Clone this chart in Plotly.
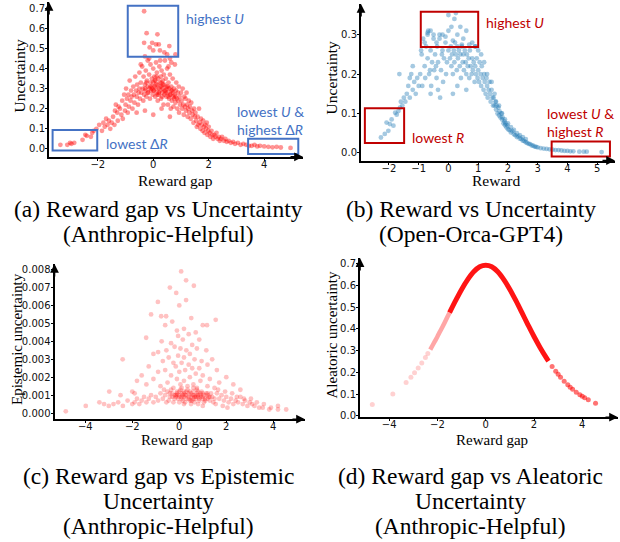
import plotly.graph_objects as go

# ---------------- data ----------------
# (a) Anthropic-Helpful: reward gap vs uncertainty
gap_a = [
    -3.35, -3.1, -3.0, -2.95, -2.85, -2.55, -2.45, -2.4, -2.25, -2.2, -2.15,
    -2.05, -1.95, -1.85, -1.8, -1.75, -1.7, -1.65, -1.6, -1.55, -1.5,
    -1.45, -1.4, -1.38, -1.35, -1.3, -1.28, -1.25, -1.2, -1.15, -1.12, -1.1, -1.05, -1.02, -1.0,
    -0.98, -0.95, -0.92, -0.9, -0.88, -0.85, -0.82, -0.8, -0.78, -0.75, -0.72, -0.7, -0.68, -0.65, -0.62, -0.6, -0.58, -0.55, -0.53, -0.5, -0.5,
    -0.48, -0.45, -0.43, -0.4, -0.38, -0.36, -0.35, -0.33, -0.3, -0.28, -0.27, -0.25, -0.23, -0.2, -0.2, -0.18, -0.15, -0.14, -0.12, -0.1, -0.1, -0.08, -0.05, -0.04, -0.02, 0.0, 0.0,
    0.02, 0.04, 0.05, 0.07, 0.08, 0.1, 0.1, 0.12, 0.13, 0.15, 0.16, 0.18, 0.2, 0.2, 0.22, 0.24, 0.25, 0.27, 0.28, 0.3, 0.3, 0.32, 0.34, 0.35, 0.37, 0.38, 0.4, 0.4, 0.42, 0.44, 0.45, 0.47, 0.48, 0.5,
    0.52, 0.53, 0.55, 0.57, 0.58, 0.6, 0.62, 0.63, 0.65, 0.67, 0.68, 0.7, 0.72, 0.73, 0.75, 0.77, 0.78, 0.8, 0.82, 0.83, 0.85, 0.87, 0.88, 0.9, 0.92, 0.93, 0.95, 0.97, 1.0,
    1.02, 1.04, 1.06, 1.08, 1.1, 1.12, 1.14, 1.16, 1.18, 1.2, 1.22, 1.24, 1.26, 1.28, 1.3, 1.32, 1.35, 1.37, 1.4, 1.42, 1.45, 1.47, 1.5,
    1.52, 1.55, 1.57, 1.6, 1.62, 1.65, 1.67, 1.7, 1.72, 1.75, 1.78, 1.8, 1.83, 1.85, 1.88, 1.9, 1.93, 1.95, 1.98, 2.0,
    2.03, 2.06, 2.1, 2.13, 2.16, 2.2, 2.24, 2.28, 2.32, 2.36, 2.4, 2.44, 2.48,
    2.55, 2.6, 2.65, 2.72, 2.8, 2.88, 2.95, 3.05, 3.15, 3.25, 3.35, 3.45,
    3.55, 3.65, 3.75, 3.85, 4.0, 4.15, 4.3, 4.45, 4.6, 4.95,
    -0.33, 0.15, -0.24, -0.04, -0.33, 0.1, 0.58, -0.13, 0.24, 0.8, 0.4, -0.3, 0.6, 0.2, 0.0, 0.5,
    -0.6, -0.3, 0.0, 0.3, 0.6, -0.45, 0.65, 0.55, -0.15, 0.25,
    -0.3, -0.2, -0.1, 0.0, 0.1, 0.2, 0.3, 0.4, 0.5, 0.6, 0.7, 0.8, -0.25, -0.05, 0.15, 0.35, 0.55, 0.75, 0.05, 0.25, 0.45, 0.65, 0.12, 0.32, 0.52,
]
unc_a = [
    0.02, 0.02, 0.03, 0.025, 0.03, 0.045, 0.07, 0.065, 0.06, 0.08, 0.09,
    0.10, 0.12, 0.09, 0.13, 0.11, 0.15, 0.12, 0.14, 0.10, 0.13,
    0.16, 0.12, 0.19, 0.22, 0.18, 0.14, 0.21, 0.20, 0.17, 0.24, 0.15, 0.27, 0.19, 0.22,
    0.30, 0.25, 0.18, 0.27, 0.21, 0.34, 0.24, 0.29, 0.26, 0.20, 0.31, 0.27, 0.23, 0.36, 0.29, 0.26, 0.32, 0.22, 0.28, 0.38, 0.30,
    0.25, 0.33, 0.28, 0.41, 0.30, 0.24, 0.36, 0.27, 0.32, 0.29, 0.39, 0.26, 0.34, 0.31, 0.44, 0.28, 0.37, 0.30, 0.25, 0.33, 0.42, 0.29, 0.35, 0.31, 0.27, 0.40, 0.33,
    0.29, 0.36, 0.31, 0.26, 0.34, 0.30, 0.43, 0.28, 0.38, 0.32, 0.24, 0.35, 0.30, 0.27, 0.41, 0.33, 0.29, 0.36, 0.25, 0.31, 0.39, 0.28, 0.34, 0.30, 0.22, 0.37, 0.27, 0.32, 0.44, 0.29, 0.35, 0.26, 0.31, 0.40,
    0.28, 0.22, 0.33, 0.25, 0.30, 0.37, 0.27, 0.20, 0.31, 0.24, 0.29, 0.35, 0.26, 0.21, 0.30, 0.27, 0.42, 0.23, 0.29, 0.33, 0.25, 0.20, 0.28, 0.24, 0.31, 0.18, 0.26, 0.22, 0.28,
    0.24, 0.20, 0.30, 0.22, 0.17, 0.26, 0.21, 0.25, 0.19, 0.28, 0.22, 0.16, 0.20, 0.24, 0.18, 0.21, 0.15, 0.23, 0.19, 0.17, 0.13, 0.20, 0.16,
    0.18, 0.14, 0.11, 0.16, 0.12, 0.20, 0.13, 0.10, 0.15, 0.12, 0.09, 0.14, 0.11, 0.08, 0.12, 0.10, 0.13, 0.07, 0.09, 0.11,
    0.08, 0.06, 0.09, 0.07, 0.05, 0.07, 0.06, 0.08, 0.05, 0.06, 0.04, 0.05, 0.06,
    0.04, 0.05, 0.035, 0.04, 0.03, 0.035, 0.025, 0.03, 0.02, 0.025, 0.02, 0.015,
    0.015, 0.02, 0.012, 0.015, 0.012, 0.01, 0.008, 0.01, 0.007, 0.005,
    0.685, 0.57, 0.576, 0.528, 0.528, 0.52, 0.512, 0.505, 0.49, 0.47, 0.48, 0.46, 0.45, 0.52, 0.49, 0.47,
    0.18, 0.19, 0.17, 0.20, 0.16, 0.42, 0.43, 0.41, 0.45, 0.44,
    0.30, 0.28, 0.31, 0.29, 0.32, 0.28, 0.33, 0.29, 0.30, 0.27, 0.28, 0.26, 0.33, 0.30, 0.27, 0.32, 0.26, 0.25, 0.34, 0.31, 0.28, 0.29, 0.36, 0.26, 0.31,
]

# (b) Open-Orca-GPT4: reward vs uncertainty
reward_b = [
    -2.27, -2.02, -1.85, -2.08, -1.91, -1.74, -1.68, -1.63, -1.79, -1.97, -2.14,
    -1.6, -1.55, -1.5, -1.45, -1.4, -1.35, -1.3, -1.25, -1.2, -1.15, -1.1, -1.05, -1.0, -1.65, -1.3, -1.2,
    -0.95, -0.9, -0.88, -0.85, -0.8, -0.78, -0.75, -0.7, -0.68, -0.65, -0.6, -0.58, -0.55, -0.5, -0.48, -0.45, -0.4, -0.38, -0.35, -0.3, -0.28, -0.25, -0.2, -0.18, -0.15, -0.1, -0.08, -0.05, 0.0, -0.6, -0.35, -0.7, -0.92, -0.42, -0.22, -0.62,
    0.0, 0.25, 0.2, -0.6, -0.7, -0.5, -0.2, 0.0, 0.1, 0.3, 0.5, 0.6, -0.3, -0.8, 0.8, 0.4, -0.1, 0.15, 0.45, 0.7, -0.4, 0.9,
    0.05, 0.08, 0.1, 0.12, 0.15, 0.18, 0.2, 0.22, 0.25, 0.28, 0.3, 0.32, 0.35, 0.38, 0.4, 0.42, 0.45, 0.48, 0.5, 0.52, 0.55, 0.58, 0.6, 0.62, 0.65, 0.68, 0.7, 0.72, 0.75, 0.78, 0.8, 0.82, 0.85, 0.88, 0.9, 0.92, 0.95, 0.98, 0.3, 0.6, 0.15,
    1.0, 1.03, 1.05, 1.08, 1.1, 1.12, 1.15, 1.18, 1.2, 1.22, 1.25, 1.28, 1.3, 1.32, 1.35, 1.38, 1.4, 1.42, 1.45, 1.48, 1.5,
    1.52, 1.55, 1.58, 1.6, 1.62, 1.65, 1.68, 1.7, 1.72, 1.75, 1.78, 1.8, 1.82, 1.85, 1.88, 1.9, 1.92, 1.95, 1.98, 2.0,
    2.05, 2.1, 2.15, 2.2, 2.25, 2.3, 2.35, 2.4, 2.45, 2.5, 2.55, 2.6, 2.65, 2.7, 2.75, 2.8, 2.85, 2.9, 2.95, 3.0,
    3.1, 3.2, 3.3, 3.4, 3.5, 3.6, 3.7, 3.8, 3.9, 4.0, 4.1, 4.2, 4.4, 4.55, 4.65, 5.15,
    1.55, 1.6, 1.7, 1.8, 1.9, 2.0, 2.1, 2.2, 2.3, 2.4, 2.5, 2.6, 1.45, 1.3, 1.2, 1.1, 1.0, 0.9,
]
unc_b = [
    0.039, 0.056, 0.069, 0.077, 0.085, 0.097, 0.106, 0.115, 0.102, 0.073, 0.048,
    0.13, 0.12, 0.14, 0.13, 0.15, 0.17, 0.14, 0.20, 0.16, 0.18, 0.15, 0.19, 0.17, 0.20, 0.19, 0.22,
    0.20, 0.25, 0.17, 0.29, 0.22, 0.19, 0.27, 0.24, 0.31, 0.20, 0.26, 0.17, 0.23, 0.29, 0.21, 0.25, 0.19, 0.27, 0.23, 0.30, 0.14, 0.21, 0.26, 0.18, 0.24, 0.28, 0.20, 0.23, 0.26, 0.15, 0.16, 0.30, 0.26, 0.22, 0.25, 0.21,
    0.35, 0.355, 0.34, 0.31, 0.305, 0.30, 0.30, 0.31, 0.32, 0.30, 0.29, 0.31, 0.29, 0.28, 0.28, 0.32, 0.295, 0.285, 0.275, 0.275, 0.28, 0.27,
    0.24, 0.27, 0.22, 0.25, 0.20, 0.26, 0.23, 0.28, 0.25, 0.21, 0.27, 0.24, 0.26, 0.22, 0.25, 0.19, 0.27, 0.23, 0.25, 0.21, 0.26, 0.23, 0.20, 0.25, 0.22, 0.24, 0.19, 0.26, 0.22, 0.20, 0.24, 0.21, 0.23, 0.18, 0.22, 0.20, 0.24, 0.19, 0.17, 0.16, 0.15,
    0.21, 0.18, 0.23, 0.20, 0.17, 0.22, 0.19, 0.16, 0.20, 0.18, 0.15, 0.19, 0.17, 0.14, 0.16, 0.18, 0.15, 0.13, 0.16, 0.14, 0.12,
    0.14, 0.12, 0.13, 0.11, 0.12, 0.10, 0.115, 0.095, 0.105, 0.09, 0.10, 0.085, 0.09, 0.075, 0.08, 0.07, 0.075, 0.065, 0.07, 0.06,
    0.058, 0.052, 0.055, 0.047, 0.045, 0.04, 0.042, 0.036, 0.035, 0.031, 0.03, 0.027, 0.025, 0.023, 0.022, 0.019, 0.018, 0.016, 0.015, 0.014,
    0.012, 0.011, 0.01, 0.009, 0.008, 0.007, 0.007, 0.006, 0.005, 0.005, 0.004, 0.004, 0.003, 0.003, 0.003, 0.002,
    0.15, 0.13, 0.12, 0.10, 0.085, 0.075, 0.065, 0.058, 0.05, 0.045, 0.04, 0.035, 0.18, 0.20, 0.23, 0.25, 0.26, 0.27,
]

# (c) Anthropic-Helpful: reward gap vs epistemic uncertainty
gap_c = [
    0.08, 0.29, 0.62, -0.4, -0.13, -0.91, 0.29, 0.0, -1.2, 1.55, 0.51, -0.77, -0.56, 1.0, 1.18, -1.41, -2.41, -0.6, -0.3, -0.1,
    0.2, 0.4, 0.7, -0.05, 0.15, -0.75, 0.85, -0.35, 0.55, -0.2, 0.05, 0.3, -0.55, 0.75, 1.15, -0.9, -1.1, 0.45, -0.05, 0.2,
    1.4, -0.45, 0.65, 0.95, -0.7, -0.25, 0.1, 0.4, 1.2, -1.3, -0.15, 0.55, 0.85, 1.6, -0.6, 0.25, -0.9, 0.0, 0.7, -1.6,
    1.0, -0.35, 0.45, 2.0, 1.3, -1.1, -0.1, 0.2, -1.8, 0.9, 1.7, -0.5, 2.3, 0.6, -1.4, 0.05, 1.2, -0.8, 0.35, 2.6,
    -2.0, 1.5, -0.25, 0.75,
    -0.5, -0.4, -0.3, -0.2, -0.1, 0.0, 0.1, 0.2, 0.3, 0.4, 0.5, 0.6, 0.7, 0.8, 0.9, 1.0, 1.1, 1.2, 1.3, 1.4, 1.5,
    -0.45, -0.35, -0.15, 0.05, 0.15, 0.25, 0.35, 0.45, 0.55, 0.65, 0.75, 0.85, 0.95, 1.05, 1.15, 1.25, 1.35, 1.45,
    -0.05, 0.0, 0.2, 0.5, 0.8, 1.0, -0.25, 0.1, 0.6, -0.6, -0.7, -0.8, -0.9, -1.0, -1.1, -1.2, -1.3, -1.4, -1.5, -1.6,
    -1.7, -1.8, -1.9, -2.0, -2.2, -2.4, -2.6, -2.8, -3.0, -3.4, -3.2, -3.98, -4.83, -2.98, -2.5, -1.9, -0.65, -0.55,
    1.6, 1.7, 1.8, 1.9, 2.0, 2.1, 2.2, 2.3, 2.4, 2.5, 2.6, 2.7, 2.8, 2.9, 3.0, 3.1, 3.2, 3.3, 3.4, 3.55,
    3.6, 3.83, 3.9, 4.2, 4.2, 4.55, 1.65, 1.95, 2.25, 2.45, 2.75, 3.05, 1.55, 1.85, 2.05,
    0.3, 0.5, 0.7, 0.9, 0.1, -0.1, 0.4, 0.6, 0.8, 0.2, 0.0, 1.0, 1.2, 0.15, 0.65,
    -0.3, -0.1, 0.1, 0.3, 0.5, 0.7, 0.9, 1.1, 1.3, -0.2, 0.0, 0.2, 0.4, 0.6, 0.8, 1.0, 1.2, -0.4, 0.45, 0.85, 0.25, 0.55, 0.75, 1.05, -0.15,
]
epi_c = [
    0.0079, 0.0074, 0.0071, 0.0070, 0.0067, 0.0062, 0.0063, 0.0060, 0.0055, 0.0052, 0.0053, 0.0054, 0.0054, 0.0049, 0.0049, 0.0042, 0.0030, 0.0049, 0.0051, 0.0046,
    0.0047, 0.0044, 0.0045, 0.0043, 0.0041, 0.0040, 0.0041, 0.0039, 0.0038, 0.0037, 0.0036, 0.0035, 0.0035, 0.0036, 0.0035, 0.0034, 0.0033, 0.0033, 0.0032, 0.0031,
    0.0030, 0.0031, 0.0030, 0.0029, 0.0029, 0.0028, 0.0028, 0.0027, 0.0027, 0.0026, 0.0026, 0.0025, 0.0025, 0.0024, 0.0024, 0.0024, 0.0023, 0.0023, 0.0022, 0.0021,
    0.0021, 0.0021, 0.0020, 0.0020, 0.0019, 0.0019, 0.0019, 0.0018, 0.0018, 0.0018, 0.0017, 0.0017, 0.0016, 0.0016, 0.0016, 0.0016, 0.0015, 0.0015, 0.0015, 0.0013,
    0.0012, 0.0014, 0.0014, 0.0014,
    0.0012, 0.0009, 0.0011, 0.0008, 0.0012, 0.0010, 0.0009, 0.0012, 0.0008, 0.0011, 0.0009, 0.0012, 0.0008, 0.0010, 0.0009, 0.0011, 0.0008, 0.0010, 0.0007, 0.0009, 0.0008,
    0.0007, 0.0013, 0.0010, 0.0013, 0.0007, 0.0010, 0.0013, 0.0007, 0.0010, 0.0006, 0.0011, 0.0007, 0.0012, 0.0006, 0.0011, 0.0009, 0.0011, 0.0006,
    0.0008, 0.0006, 0.0005, 0.0005, 0.0005, 0.0004, 0.0006, 0.0014, 0.0014, 0.0010, 0.0008, 0.0011, 0.0007, 0.0009, 0.0006, 0.0010, 0.0008, 0.0006, 0.0009, 0.0007,
    0.0005, 0.0008, 0.0006, 0.0005, 0.0007, 0.0004, 0.0006, 0.0005, 0.0004, 0.0006, 0.0005, 0.0004, 0.0001, 0.0012, 0.0010, 0.0011, 0.0013, 0.0006,
    0.0011, 0.0008, 0.0010, 0.0007, 0.0009, 0.0006, 0.0008, 0.0005, 0.0007, 0.0006, 0.0009, 0.0005, 0.0007, 0.0004, 0.0006, 0.0005, 0.0004, 0.0006, 0.0003, 0.0003,
    0.0005, 0.0002, 0.0003, 0.0002, 0.0004, 0.0002, 0.0013, 0.0012, 0.0011, 0.0009, 0.0008, 0.0008, 0.0005, 0.0004, 0.0003,
    0.0010, 0.0011, 0.0010, 0.0010, 0.0011, 0.0010, 0.0009, 0.0008, 0.0009, 0.0009, 0.0009, 0.0009, 0.0008, 0.0010, 0.0009,
    0.0009, 0.0011, 0.0008, 0.0012, 0.0007, 0.0009, 0.0011, 0.0007, 0.0009, 0.0010, 0.0012, 0.0011, 0.0008, 0.0010, 0.0012, 0.0008, 0.0011, 0.0011, 0.0012, 0.0008, 0.0006, 0.0007, 0.0013, 0.0010, 0.0009,
]

# (d) Anthropic-Helpful: reward gap vs aleatoric uncertainty (points along the curve)
gap_d = [-4.7, -3.85, -3.3, -3.1, -2.95, -2.8, -2.65, -2.5, -2.4, -2.3, -2.2, -2.1, -2.0, -1.9, -1.8, -1.7,
         -1.6, -1.5, -1.25, -1.0, -0.75, -0.5, -0.25, 0.0, 0.25, 0.5, 0.75, 1.0, 1.25, 1.5, 1.75, 2.0,
         2.25, 2.5, 2.6, 2.75, 2.9, 3.0, 3.1, 3.25, 3.4, 3.5, 3.6, 3.75, 3.9, 4.0, 4.1, 4.25, 4.55]
ale_d = [0.052, 0.101, 0.154, 0.178, 0.198, 0.220, 0.243, 0.269, 0.287, 0.305, 0.325, 0.345, 0.365, 0.387, 0.408, 0.430,
         0.453, 0.475, 0.530, 0.582, 0.627, 0.663, 0.686, 0.693, 0.686, 0.663, 0.627, 0.582, 0.530, 0.475, 0.419, 0.365,
         0.315, 0.269, 0.252, 0.227, 0.205, 0.191, 0.178, 0.159, 0.143, 0.132, 0.123, 0.109, 0.097, 0.090, 0.083, 0.074, 0.058]

# ---------------- layout helpers ----------------
W, H = 620, 542
def PX(x): return x / W
def PY(y): return 1 - y / H

SERIF = "Liberation Serif"
TICKF = dict(family="DejaVu Sans", size=10, color="#111")

def axis(domain, rng, tickvals, ticktext=None, anchor=None, standoff=0):
    d = dict(domain=domain, range=rng, showgrid=False, zeroline=False, showline=True,
             linecolor="black", linewidth=2, ticks="outside", ticklen=2, tickwidth=1,
             tickcolor="black", tickfont=TICKF, tickvals=tickvals, anchor=anchor,
             ticklabelstandoff=standoff)
    if ticktext is not None:
        d["ticktext"] = ticktext
    return d

fig = go.Figure()

fig.add_trace(go.Scatter(x=gap_a, y=unc_a, mode="markers", xaxis="x", yaxis="y",
                         marker=dict(size=4.8, color="rgba(255,0,0,0.42)", line=dict(width=0))))
fig.add_trace(go.Scatter(x=reward_b, y=unc_b, mode="markers", xaxis="x2", yaxis="y2",
                         marker=dict(size=4.8, color="rgba(31,119,180,0.4)", line=dict(width=0))))
fig.add_trace(go.Scatter(x=gap_c, y=epi_c, mode="markers", xaxis="x3", yaxis="y3",
                         marker=dict(size=4.8, color="rgba(255,0,0,0.24)", line=dict(width=0))))

# (d): dense middle part drawn as a thick line, fading part thinner, sparse tails as markers
LO, MID_LO, HI = -2.3, -1.5, 2.6
fade_x = [g for g in gap_d if LO <= g <= MID_LO]
fade_y = [a for g, a in zip(gap_d, ale_d) if LO <= g <= MID_LO]
mid_x = [g for g in gap_d if MID_LO <= g <= HI]
mid_y = [a for g, a in zip(gap_d, ale_d) if MID_LO <= g <= HI]
left_x = [g for g in gap_d if g < LO]
left_y = [a for g, a in zip(gap_d, ale_d) if g < LO]
right_x = [g for g in gap_d if g > HI]
right_y = [a for g, a in zip(gap_d, ale_d) if g > HI]
fig.add_trace(go.Scatter(x=fade_x, y=fade_y, mode="lines", xaxis="x4", yaxis="y4", line_shape="spline",
                         line=dict(color="rgba(255,0,0,0.35)", width=4.5)))
fig.add_trace(go.Scatter(x=mid_x, y=mid_y, mode="lines", xaxis="x4", yaxis="y4", line_shape="spline",
                         line=dict(color="rgba(255,0,0,0.92)", width=5)))
fig.add_trace(go.Scatter(x=left_x, y=left_y, mode="markers", xaxis="x4", yaxis="y4",
                         marker=dict(size=5, color="rgba(255,0,0,0.18)", line=dict(width=0))))
fig.add_trace(go.Scatter(x=right_x, y=right_y, mode="markers", xaxis="x4", yaxis="y4",
                         marker=dict(size=5, color="rgba(255,0,0,0.55)", line=dict(width=0))))

dom = {
    "a": ([PX(49), PX(303)], [PY(158), PY(2)]),
    "b": ([PX(361), PX(615)], [PY(161.7), PY(4)]),
    "c": ([PX(54.5), PX(305)], [PY(422.3), PY(266)]),
    "d": ([PX(360), PX(618)], [PY(420.3), PY(260)]),
}
XS = -5  # pull x tick labels towards the axis line

fig.update_layout(
    width=W, height=H, margin=dict(l=0, r=0, t=0, b=0),
    paper_bgcolor="white", plot_bgcolor="rgba(0,0,0,0)", showlegend=False,
    xaxis=axis(dom["a"][0], [-3.76, 5.4], [-2, 0, 2, 4], anchor="y", standoff=XS),
    yaxis=axis(dom["a"][1], [-0.0396, 0.7312], [0, 0.1, 0.2, 0.3, 0.4, 0.5, 0.6, 0.7],
               ["0.0", "0.1", "0.2", "0.3", "0.4", "0.5", "0.6", "0.7"], anchor="x", standoff=-2),
    xaxis2=axis(dom["b"][0], [-2.94, 5.6], [-2, -1, 0, 1, 2, 3, 4, 5], anchor="y2", standoff=XS),
    yaxis2=axis(dom["b"][1], [-0.0194, 0.378], [0, 0.1, 0.2, 0.3], ["0.0", "0.1", "0.2", "0.3"],
                anchor="x2", standoff=-2),
    xaxis3=axis(dom["c"][0], [-5.31, 5.35], [-4, -2, 0, 2, 4], anchor="y3", standoff=XS),
    yaxis3=axis(dom["c"][1], [-0.00034, 0.00831],
                [0, 0.001, 0.002, 0.003, 0.004, 0.005, 0.006, 0.007, 0.008],
                ["0.000", "0.001", "0.002", "0.003", "0.004", "0.005", "0.006", "0.007", "0.008"],
                anchor="x3", standoff=-2),
    xaxis4=axis(dom["d"][0], [-5.21, 5.48], [-4, -2, 0, 2, 4], anchor="y4", standoff=XS),
    yaxis4=axis(dom["d"][1], [-0.006, 0.726], [0, 0.1, 0.2, 0.3, 0.4, 0.5, 0.6, 0.7],
                ["0.0", "0.1", "0.2", "0.3", "0.4", "0.5", "0.6", "0.7"], anchor="x4", standoff=-2),
)

ann = []
shapes = []

# arrow heads at axis ends
for k, (dx, dy) in dom.items():
    ann.append(dict(x=dx[1], y=dy[0], xref="paper", yref="paper", ax=-14, ay=0, text="",
                    showarrow=True, arrowhead=2, arrowsize=1.1, arrowwidth=1.6, arrowcolor="black", standoff=0))
    ann.append(dict(x=dx[0], y=dy[1], xref="paper", yref="paper", ax=0, ay=14, text="",
                    showarrow=True, arrowhead=2, arrowsize=1.1, arrowwidth=1.6, arrowcolor="black", standoff=0))

def txt(x, y, s, size, angle=0, family=SERIF, color="black", xanchor="center", align="center", xref="paper", yref="paper"):
    ann.append(dict(x=x, y=y, xref=xref, yref=yref, text=s, showarrow=False, textangle=angle,
                    xanchor=xanchor, yanchor="middle", align=align, borderpad=0,
                    font=dict(family=family, size=size, color=color)))

# axis titles
txt(PX(175), PY(182), "Reward gap", 15.5)
txt(PX(19), PY(77), "Uncertainty", 15.5, angle=-90)
txt(PX(496), PY(182), "Reward", 15.5)
txt(PX(331), PY(78), "Uncertainty", 15.5, angle=-90)
txt(PX(177), PY(443), "Reward gap", 15)
txt(PX(17.5), PY(342), "Epistemic uncertainty", 15, angle=-90)
txt(PX(492), PY(443), "Reward gap", 15)
txt(PX(332), PY(337), "Aleatoric uncertainty", 15, angle=-90)

# captions
CAP = 23.5
txt(PX(158), PY(211), "(a) Reward gap vs Uncertainty", CAP)
txt(PX(158), PY(236), "(Anthropic-Helpful)", CAP)
txt(PX(471), PY(211), "(b) Reward vs Uncertainty", CAP)
txt(PX(471), PY(236), "(Open-Orca-GPT4)", CAP)
txt(PX(158), PY(480), "(c) Reward gap vs Epistemic", CAP)
txt(PX(158), PY(505), "Uncertainty", CAP)
txt(PX(158), PY(530), "(Anthropic-Helpful)", CAP)
txt(PX(470), PY(480), "(d) Reward gap vs Aleatoric", CAP)
txt(PX(470), PY(505), "Uncertainty", CAP)
txt(PX(470), PY(530), "(Anthropic-Helpful)", CAP)

# highlight boxes and labels
BLUE = "#4472C4"
RED = "#C00000"
LBL = "Lato"
LS = 14
for (x0, x1, y0, y1) in [(-3.63, -2.02, -0.008, 0.094), (-0.92, 0.90, 0.459, 0.713), (3.42, 5.23, -0.025, 0.050)]:
    shapes.append(dict(type="rect", xref="x", yref="y", x0=x0, x1=x1, y0=y0, y1=y1,
                       line=dict(color=BLUE, width=2), fillcolor="rgba(0,0,0,0)"))
for (x0, x1, y0, y1) in [(-0.93, 1.0, 0.269, 0.358), (-2.81, -1.49, 0.025, 0.113), (3.47, 5.43, -0.009, 0.029)]:
    shapes.append(dict(type="rect", xref="x2", yref="y2", x0=x0, x1=x1, y0=y0, y1=y1,
                       line=dict(color=RED, width=2), fillcolor="rgba(0,0,0,0)"))

txt(1.14, 0.648, "highest <i>U</i>", LS, family=LBL, color=BLUE, xanchor="left", xref="x", yref="y")
txt(-1.74, 0.025, "lowest Δ<i>R</i>", LS, family=LBL, color=BLUE, xanchor="left", xref="x", yref="y")
txt(2.99, 0.1436, "lowest <i>U</i> &amp;<br>highest Δ<i>R</i>", LS, family=LBL, color=BLUE,
    xanchor="left", align="left", xref="x", yref="y")
txt(1.23, 0.331, "highest <i>U</i>", LS, family=LBL, color=RED, xanchor="left", xref="x2", yref="y2")
txt(-1.27, 0.040, "lowest <i>R</i>", LS, family=LBL, color=RED, xanchor="left", xref="x2", yref="y2")
txt(3.27, 0.076, "lowest <i>U</i> &amp;<br>highest <i>R</i>", LS, family=LBL, color=RED,
    xanchor="left", align="left", xref="x2", yref="y2")

fig.update_layout(annotations=ann, shapes=shapes)
fig.write_html("out.html", config={"displayModeBar": False},
               post_script="document.body.style.margin='0';document.body.style.overflow='hidden';")
